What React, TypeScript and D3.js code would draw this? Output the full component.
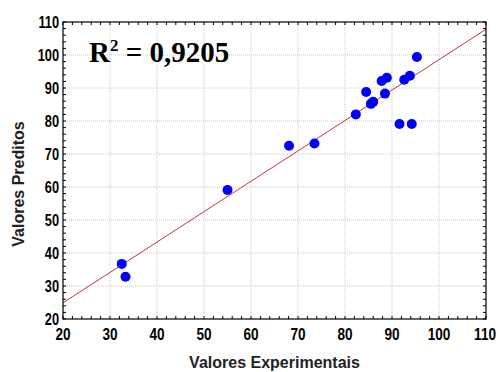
import React from "react";
import * as d3 from "d3";

const experimental = [32.5, 33.3, 55.0, 68.1, 73.5, 82.3, 84.5, 85.5, 86.0, 87.8, 88.9, 88.5, 91.6, 94.2, 92.6, 93.8, 95.3];
const predicted = [36.7, 32.8, 59.1, 72.5, 73.2, 82.0, 88.8, 85.2, 85.8, 92.1, 93.1, 88.3, 79.1, 79.1, 92.5, 93.7, 99.4];
const fitIntercept = 24.9; // value at x = 20
const fitSlope = 0.921;
const xTicks = [20, 30, 40, 50, 60, 70, 80, 90, 100, 110];
const yTicks = [20, 30, 40, 50, 60, 70, 80, 90, 100, 110];
const minorStep = 2;

export default function App() {
  const W = 498, H = 372;
  const m = { left: 63, right: 486, top: 22, bottom: 319 };
  const x = d3.scaleLinear().domain([20, 110]).range([m.left, m.right]);
  const y = d3.scaleLinear().domain([20, 110]).range([m.bottom, m.top]);
  const minors = d3.range(20, 110.001, minorStep);
  const fit = (v: number) => fitIntercept + fitSlope * (v - 20);
  const line = d3.line<number>().x((d) => x(d)).y((d) => y(fit(d)));
  const tickFont = "'Liberation Sans', Arial, sans-serif";
  const titleFont = "'Liberation Sans', Arial, sans-serif";
  const sx = 0.8;

  return (
    <svg width={W} height={H} style={{ position: "absolute", left: 0, top: 0 }}>
      <rect x={0} y={0} width={W} height={H} fill="#fff" />
      {/* grid */}
      {xTicks.slice(1, -1).map((t) => (
        <line key={"gx" + t} x1={x(t)} x2={x(t)} y1={m.top} y2={m.bottom} stroke="#c8c8c8" strokeDasharray="1,1" />
      ))}
      {yTicks.slice(1, -1).map((t) => (
        <line key={"gy" + t} x1={m.left} x2={m.right} y1={y(t)} y2={y(t)} stroke="#c8c8c8" strokeDasharray="1,1" />
      ))}
      {/* minor ticks */}
      {minors.map((t) => (
        <g key={"mt" + t} stroke="#000" strokeWidth={1}>
          <line x1={x(t)} x2={x(t)} y1={m.bottom} y2={m.bottom - 3} />
          <line x1={x(t)} x2={x(t)} y1={m.top} y2={m.top + 3} />
          <line x1={m.left} x2={m.left + 3} y1={y(t)} y2={y(t)} />
          <line x1={m.right} x2={m.right - 3} y1={y(t)} y2={y(t)} />
        </g>
      ))}
      {/* fit line */}
      <path d={line([20, 110]) || ""} stroke="#cc3344" strokeWidth={1} fill="none" />
      {/* points */}
      {experimental.map((v, i) => (
        <circle key={"p" + i} cx={x(v)} cy={y(predicted[i])} r={5} fill="#0000ff" />
      ))}
      {/* frame */}
      <rect x={m.left} y={m.top} width={m.right - m.left} height={m.bottom - m.top} fill="none" stroke="#000" strokeWidth={1.2} />
      {/* tick labels */}
      {xTicks.map((t, i) => {
        const last = i === xTicks.length - 1;
        return (
          <g key={"xl" + t} transform={`translate(${last ? W - 2 : x(t)},340) scale(${sx},1)`}>
            <text x={0} y={0} textAnchor={last ? "end" : "middle"} fontFamily={tickFont} fontWeight="bold" fontSize={17} fill="#000">{t}</text>
          </g>
        );
      })}
      {yTicks.map((t) => (
        <g key={"yl" + t} transform={`translate(59,${y(t) + 6}) scale(${sx},1)`}>
          <text x={0} y={0} textAnchor="end" fontFamily={tickFont} fontWeight="bold" fontSize={16} fill="#000">{t}</text>
        </g>
      ))}
      {/* axis titles */}
      <text x={(m.left + m.right) / 2} y={368} textAnchor="middle" fontFamily={titleFont} fontWeight="bold" fontSize={16} fill="#222">Valores Experimentais</text>
      <text transform={`translate(24,184) rotate(-90)`} textAnchor="middle" fontFamily={titleFont} fontWeight="bold" fontSize={16} fill="#222">Valores Preditos</text>
      {/* R² */}
      <text x={89} y={62} fontFamily="'Liberation Serif', 'Times New Roman', serif" fontWeight="bold" fontSize={29} fill="#000">
        R<tspan dy={-11} fontSize={17}>2</tspan><tspan dy={11}> = 0,9205</tspan>
      </text>
    </svg>
  );
}
